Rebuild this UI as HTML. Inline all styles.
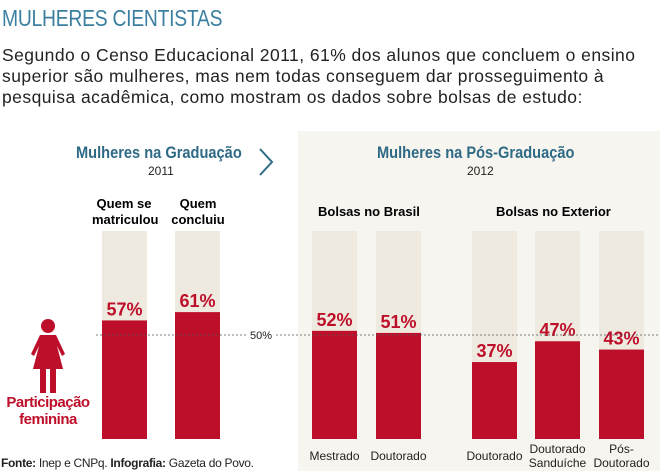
<!DOCTYPE html>
<html><head><meta charset="utf-8"><style>
body{margin:0;width:660px;height:472px;background:#fff;font-family:"Liberation Sans",sans-serif;position:relative;overflow:hidden}
.a{position:absolute;white-space:nowrap}
</style></head><body>
<div class="a" style="left:2px;top:5px;font-size:23px;color:#3b7fa0;letter-spacing:-0.3px;transform:scaleX(0.84);transform-origin:left">MULHERES CIENTISTAS</div>
<div class="a" style="left:2px;top:45px;font-size:17.5px;line-height:21px;color:#222;letter-spacing:0.45px">Segundo o Censo Educacional 2011, 61% dos alunos que concluem o ensino<br>superior são mulheres, mas nem todas conseguem dar prosseguimento à<br>pesquisa acadêmica, como mostram os dados sobre bolsas de estudo:</div>
<div class="a" style="left:298px;top:131px;width:362px;height:340px;background:#f7f5ef"></div>
<div class="a" style="left:76px;top:143px;font-size:17px;font-weight:bold;color:#2e6a86;transform:scaleX(0.86);transform-origin:left">Mulheres na Graduação</div>
<div class="a" style="left:148px;top:164px;font-size:12px;color:#222">2011</div>
<svg class="a" style="left:256px;top:147px" width="20" height="30"><polyline points="4,2 16,15 4,28" fill="none" stroke="#2e6a86" stroke-width="2"/></svg>
<div class="a" style="left:377px;top:143px;font-size:17px;font-weight:bold;color:#2e6a86;transform:scaleX(0.86);transform-origin:left">Mulheres na Pós-Graduação</div>
<div class="a" style="left:467px;top:164px;font-size:12px;color:#222">2012</div>
<div class="a" style="left:92px;top:196px;width:64px;text-align:center;font-size:13px;font-weight:bold;line-height:16px">Quem se<br>matriculou</div>
<div class="a" style="left:166px;top:196px;width:64px;text-align:center;font-size:13px;font-weight:bold;line-height:16px">Quem<br>concluiu</div>
<div class="a" style="left:318px;top:204px;font-size:13px;font-weight:bold">Bolsas no Brasil</div>
<div class="a" style="left:496px;top:204px;font-size:13px;font-weight:bold">Bolsas no Exterior</div>
<svg class="a" style="left:30px;top:319px" width="36" height="75">
<circle cx="18" cy="7" r="7" fill="#be0f2a"/>
<path d="M10,16 H26 L35,35 L32,37 L27,27 L33,50 H3 L9,27 L4,37 L1,35 Z" fill="#be0f2a"/>
<rect x="10" y="50" width="6" height="24" fill="#be0f2a"/><rect x="20" y="50" width="6" height="24" fill="#be0f2a"/>
</svg>
<div class="a" style="left:4px;top:394px;width:88px;text-align:center;font-size:15px;font-weight:bold;color:#be0f2a;line-height:17px;letter-spacing:-0.5px">Participação<br>feminina</div>
<div class="a" style="left:1px;top:456px;font-size:12px;color:#222;letter-spacing:-0.3px"><b>Fonte:</b> Inep e CNPq. <b>Infografia:</b> Gazeta do Povo.</div>
<svg id="chart" class="a" style="left:0;top:0" width="660" height="472"></svg>
<script>
const categories=["Quem se matriculou","Quem concluiu","Mestrado","Doutorado","Doutorado (exterior)","Doutorado Sanduíche","Pós-Doutorado"];
const values=[57,61,52,51,37,47,43];
const valueLabels=["57%","61%","52%","51%","37%","47%","43%"];
const bottomLabels=[[],[],["Mestrado"],["Doutorado"],["Doutorado"],["Doutorado","Sanduíche"],["Pós-","Doutorado"]];
const refValue=50;
const barX=[102,175,312,376,472,535,599];
const barW=45, y0=439, fullH=208;
const y=v=>y0-v/100*fullH;
const svg=document.getElementById('chart');
const NS='http://www.w3.org/2000/svg';
function mk(t,a){const e=document.createElementNS(NS,t);for(const k in a)e.setAttribute(k,a[k]);svg.appendChild(e);return e;}
values.forEach((v,i)=>{
 const bg=mk('rect',{x:barX[i],y:y(100),width:barW,height:fullH,fill:'#efeadf'});
 
 
 const r=mk('rect',{x:barX[i],y:y(v),width:barW,height:y0-y(v),fill:'#be0f2a'});
 
 
 const t=mk('text',{x:barX[i]+barW/2,y:y(v)-5,'text-anchor':'middle','font-size':'18','font-weight':'bold',fill:'#be0f2a','font-family':'Liberation Sans'});
 t.textContent=valueLabels[i];
 
 
 bottomLabels[i].forEach((s,j)=>{
  const l=mk('text',{x:barX[i]+barW/2,y:460+j*14-(bottomLabels[i].length-1)*7,'text-anchor':'middle','font-size':'12',fill:'#222','font-family':'Liberation Sans'});
  l.textContent=s;
  
  
 });
});
const ln=mk('line',{x1:96,x2:660,y1:y(refValue),y2:y(refValue),stroke:'#555','stroke-width':'0.8','stroke-dasharray':'2,2'});


const rb=mk('rect',{x:246,y:y(refValue)-7,width:30,height:13,fill:'#fff'});


const rl=mk('text',{x:261,y:y(refValue)+4,'text-anchor':'middle','font-size':'11',fill:'#222','font-family':'Liberation Sans'});
rl.textContent=refValue+'%';


</script>
</body></html>
